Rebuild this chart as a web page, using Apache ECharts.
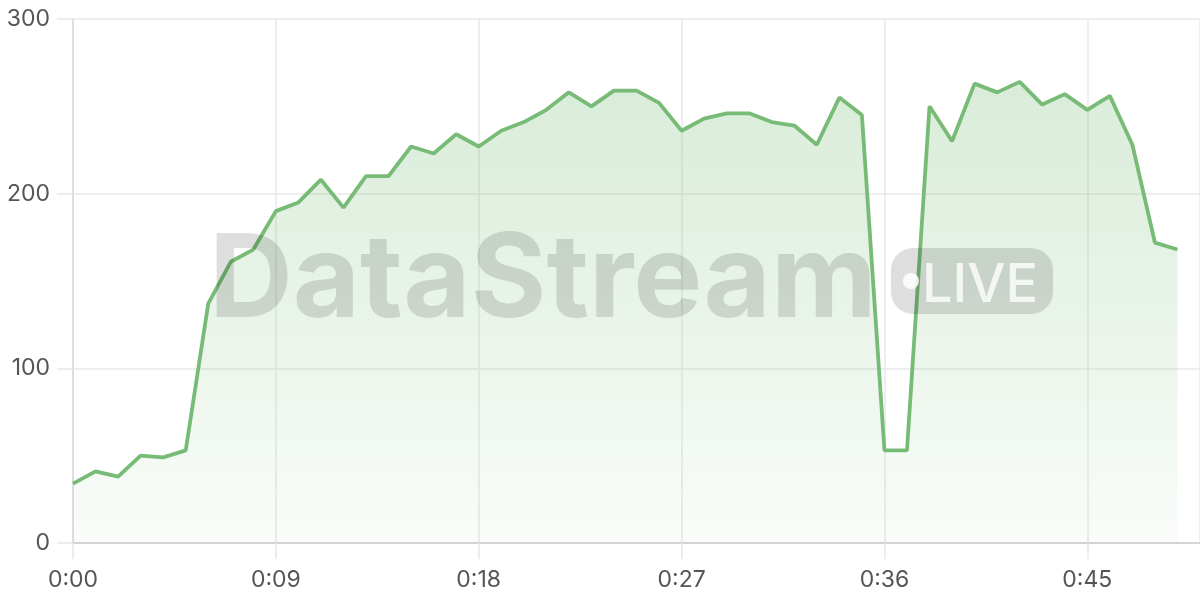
<!DOCTYPE html>
<html>
<head>
<meta charset="utf-8">
<script src="https://cdn.jsdelivr.net/npm/echarts@6/dist/echarts.min.js"></script>
<style>html,body{margin:0;padding:0;background:#fff}#c{width:1200px;height:600px}</style>
</head>
<body>
<div id="c"></div>
<script>
const minutes = [0,1,2,3,4,5,6,7,8,9,10,11,12,13,14,15,16,17,18,19,20,21,22,23,24,25,26,27,28,29,30,31,32,33,34,35,36,37,38,39,40,41,42,43,44,45,46,47,48,49];
const values = [34,41,38,50,49,53,137,161,168,190,195,208,192,210,210,227,223,234,227,236,241,248,258,250,259,259,252,236,243,246,246,241,239,228,255,245,53,53,250,230,263,258,264,251,257,248,256,228,172,168];
const yTicks = [0,100,200,300];
const xTickStep = 9;

const chart = echarts.init(document.getElementById('c'));
const fmt = v => Math.floor(v/60) + ':' + String(v%60).padStart(2,'0');
chart.setOption({
  animation:false,
  grid:{left:73,right:0,top:19,bottom:57},
  xAxis:{type:'value',min:0,max:50,interval:xTickStep,
    axisLine:{lineStyle:{color:'#ccc',width:1.5}},
    axisTick:{show:true,length:16,lineStyle:{color:'#e8e8e8',width:1.5}},
    splitLine:{show:true,lineStyle:{color:'#e8e8e8',width:1.5}},
    axisLabel:{formatter:v=>fmt(v),fontSize:23,color:'#555',fontFamily:'Inter',margin:26,showMaxLabel:false}},
  yAxis:{type:'value',min:yTicks[0],max:yTicks[yTicks.length-1],interval:100,
    axisLine:{show:true,lineStyle:{color:'#d8d8d8',width:1.5}},
    axisTick:{show:true,length:16,lineStyle:{color:'#e8e8e8',width:1.5}},
    splitLine:{lineStyle:{color:'#e8e8e8',width:1.5}},
    axisLabel:{fontSize:23,color:'#555',fontFamily:'Inter',margin:23}},
  series:[{type:'line',data:minutes.map((m,i)=>[m,values[i]]),showSymbol:false,
    lineStyle:{color:'#77bb77',width:3.8},
    areaStyle:{color:new echarts.graphic.LinearGradient(0,0,0,1,[
      {offset:0,color:'rgba(119,187,119,0.4)'},{offset:1,color:'rgba(119,187,119,0.06)'}])}}],
  graphic:[
    {type:'text',z:100,left:209,top:224,style:{text:'DataStream',font:'bold 116px Inter',fill:'rgba(0,0,0,0.13)'}},
    {type:'rect',z:100,shape:{x:891,y:248,width:162,height:66,r:22},style:{fill:'rgba(0,0,0,0.13)'}},
    {type:'circle',z:101,shape:{cx:911,cy:281,r:8},style:{fill:'rgba(255,255,255,0.85)'}},
    {type:'text',z:101,left:922,top:259,style:{text:'LIVE',font:'500 54px Inter',fill:'rgba(255,255,255,0.8)'}}
  ]
});
</script>
</body>
</html>
